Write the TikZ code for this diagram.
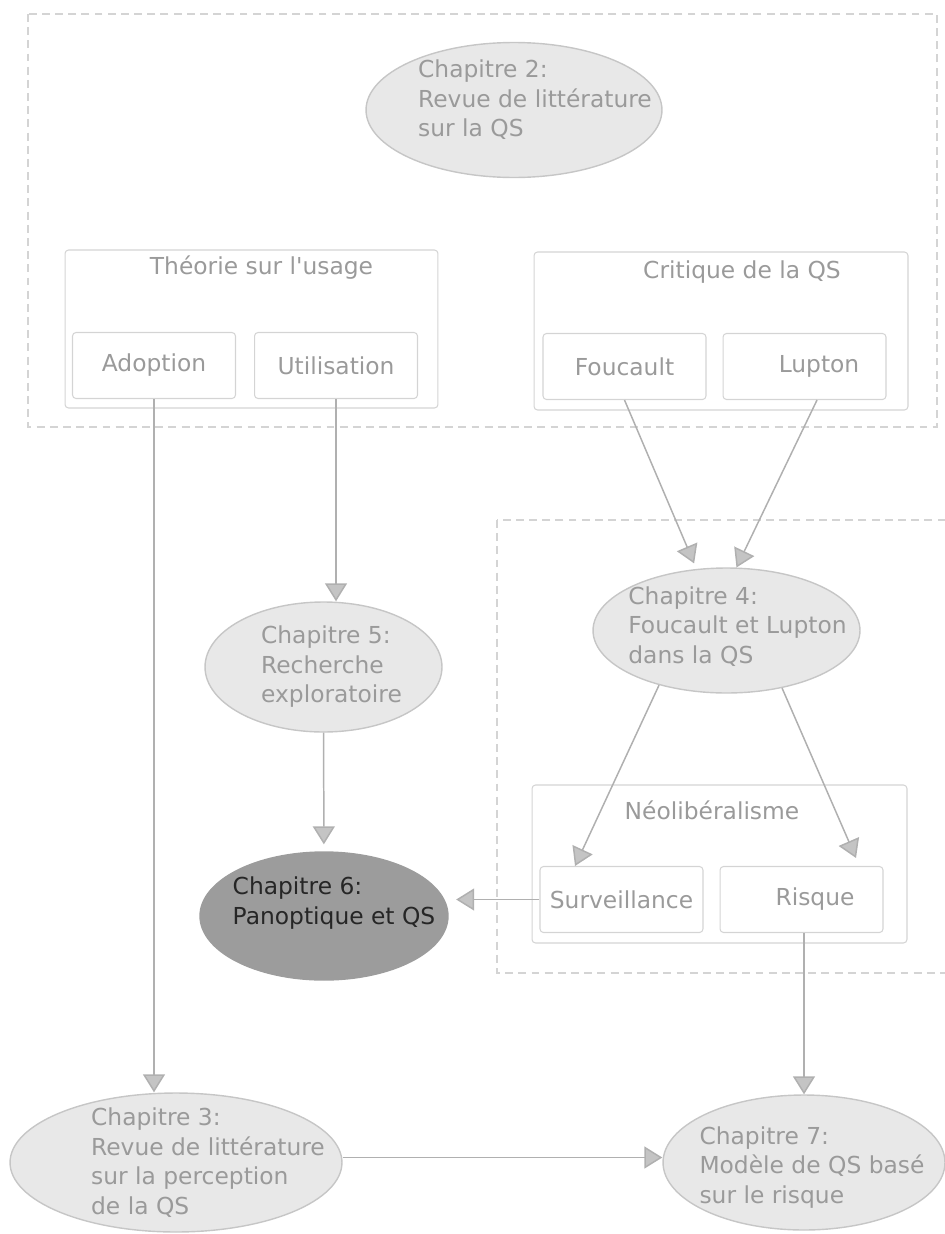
\documentclass[tikz,border=0pt]{standalone}
\usepackage{fontspec}
\setmainfont{DejaVu Sans}
\usetikzlibrary{arrows.meta}
\usetikzlibrary{positioning}
\usetikzlibrary{shapes.geometric}

\definecolor{txtgray}{HTML}{9A9A9A}
\definecolor{linegray}{HTML}{B0B0B0}
\definecolor{boxgray}{HTML}{D4D4D4}
\definecolor{chapfill}{HTML}{E8E8E8}
\definecolor{chapline}{HTML}{C6C6C6}
\definecolor{darkfill}{HTML}{9C9C9C}
\definecolor{arrowfill}{HTML}{C4C4C4}

\tikzset{
  chap/.style={ellipse, draw=chapline, fill=chapfill, line width=0.8pt, inner sep=0pt},
  chaptxt/.style={text=txtgray, align=left, inner sep=0pt, font=\fontsize{13.3}{16.8}\selectfont},
  subbox/.style={rectangle, rounded corners=2pt, draw=boxgray, line width=0.6pt,
    minimum width=3.26cm, minimum height=1.32cm, text=txtgray, font=\fontsize{13.3}{16.8}\selectfont},
  groupbox/.style={rectangle, rounded corners=2pt, draw=boxgray, line width=0.6pt,
    minimum width=7.48cm, minimum height=3.16cm},
  grouptxt/.style={text=txtgray, inner sep=0pt, font=\fontsize{13.3}{16.8}\selectfont},
  chapframe/.style={draw=boxgray, line width=0.6pt, dash pattern=on 4.5pt off 3pt},
  flow/.style={color=linegray, line width=0.85pt,
    -{Triangle[width=0.44cm, length=0.36cm, fill=arrowfill]}}
}

\begin{document}
\begin{tikzpicture}[x=0.02cm, y=-0.02cm]
  \useasboundingbox (0,0) rectangle (944,1234);

  % dashed frames
  \draw[chapframe] (28,14) rectangle (937,427);
  \draw[chapframe] (497,520) rectangle (960,973);

  % Chapitre 2
  \node[chap, minimum width=5.92cm, minimum height=2.7cm,
    label={[chaptxt, xshift=0.42cm, yshift=0.2cm]center:{Chapitre 2:\\Revue de littérature\\sur la QS}}] (ch2) at (514,110) {};

  \node[groupbox, minimum width=7.46cm,
    label={[grouptxt, xshift=0.2cm, yshift=1.22cm]center:{Théorie sur l\textquotesingle usage}}] (usage) at (251.5,329) {};
  \node[subbox] (adopt) at (154,365.5) {Adoption};
  \node[subbox, right=0.36cm of adopt] (util) {Utilisation};

  \node[groupbox,
    label={[grouptxt, xshift=0.42cm, yshift=1.18cm]center:{Critique de la QS}}] (crit) at (721,331) {};
  \node[subbox] (fouc) at (624.5,366.5) {Foucault};
  \node[subbox, right=0.32cm of fouc] (lupt) {\hspace*{0.58cm}Lupton};

  % Chapitre 4
  \node[chap, minimum width=5.34cm, minimum height=2.5cm,
    label={[chaptxt, xshift=0.22cm, yshift=0.08cm]center:{Chapitre 4:\\Foucault et Lupton\\dans la QS}}] (ch4) at (726.5,630.5) {};

  \node[groupbox, minimum width=7.5cm,
    label={[grouptxt, xshift=-0.15cm, yshift=1.08cm]center:{Néolibéralisme}}] (neo) at (719.5,864) {};
  \node[subbox] (surv) at (621.5,899.5) {Surveillance};
  \node[subbox, right=0.32cm of surv] (risk) {\hspace*{0.54cm}Risque};

  % Chapitres 5, 6, 3, 7
  \node[chap, minimum width=4.74cm, minimum height=2.6cm,
    label={[chaptxt, xshift=0.16cm]center:{Chapitre 5:\\Recherche\\exploratoire}}] (ch5) at (323.5,667) {};
  \node[chap, fill=darkfill, draw=darkfill, minimum width=4.96cm, minimum height=2.56cm,
    label={[chaptxt, text=black!85, xshift=0.2cm, yshift=0.26cm]center:{Chapitre 6:\\Panoptique et QS}}] (ch6) at (324,916) {};
  \node[chap, minimum width=6.64cm, minimum height=2.78cm,
    label={[chaptxt, xshift=0.64cm]center:{Chapitre 3:\\Revue de littérature\\sur la perception\\de la QS}}] (ch3) at (176,1162.5) {};
  \node[chap, minimum width=5.64cm, minimum height=2.7cm,
    label={[chaptxt, xshift=0.16cm, yshift=-0.1cm]center:{Chapitre 7:\\Modèle de QS basé\\sur le risque}}] (ch7) at (804,1162.5) {};

  \path[flow]
    (fouc.south) edge[shorten >=0.12cm] (ch4.116)
    ([xshift=0.25cm]lupt.south) edge (ch4.81)
    (util.south) edge (util.south |- ch5.north)
    (ch5) edge[shorten >=0.14cm] (ch6)
    (ch4.219) edge ([xshift=-0.93cm]surv.north)
    (ch4.314) edge ([xshift=1.09cm, yshift=0.16cm]risk.north)
    (surv.west) edge[shorten >=0.15cm] (surv.west -| ch6.east)
    (adopt.south) edge (adopt.south |- ch3.north)
    ([yshift=0.1cm]ch3.east) edge ([yshift=0.1cm]ch7.west)
    (ch7.north |- risk.south) edge (ch7.north);
\end{tikzpicture}
\end{document}
